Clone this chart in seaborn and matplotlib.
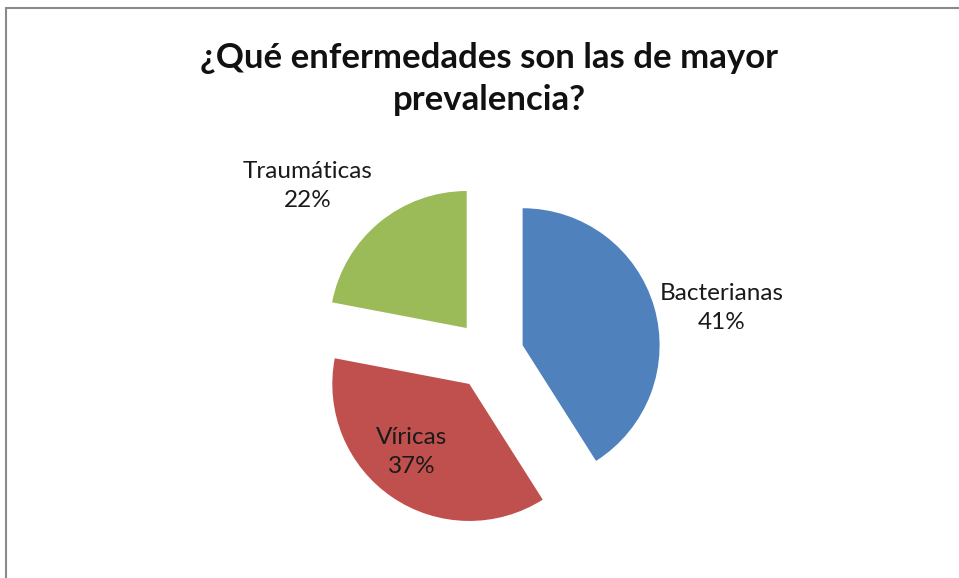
import matplotlib
matplotlib.use("Agg")
import matplotlib.pyplot as plt
import seaborn as sns
from matplotlib.lines import Line2D

categories = ["Bacterianas", "Víricas", "Traumáticas"]
values = [41, 37, 22]
colors = ["#4F81BD", "#C0504D", "#9BBB59"]
title = "¿Qué enfermedades son las de mayor\nprevalencia?"

sns.set_theme(style="white")
plt.rcParams["font.family"] = ["Lato", "DejaVu Sans"]

W, H = 959, 578
fig = plt.figure(figsize=(W / 100, H / 100), dpi=100)
ax = fig.add_axes([0, 0, 1, 1])

cx, cy, r = 489, H - 355, 137
ax.pie(values, colors=colors, startangle=90, counterclock=False,
       radius=r, center=(cx, cy), explode=[35] * len(values),
       wedgeprops=dict(linewidth=0), frame=True)
ax.set_xlim(0, W)
ax.set_ylim(0, H)
ax.set_aspect("equal")
ax.axis("off")

label_pos = [(722, 308), (412, 452), (308, 186)]
for name, v, (x, y) in zip(categories, values, label_pos):
    ax.text(x, H - y, f"{name}\n{v}%", ha="center", va="center",
            fontsize=17.5, color="#1a1a1a", linespacing=1.45)

ax.text(489, H - 79, title, ha="center", va="center", fontsize=25,
        fontweight="bold", color="#111111", linespacing=1.38)

fig.add_artist(Line2D([6 / W, 1], [1 - 8 / H, 1 - 8 / H],
                      transform=fig.transFigure, color="#8a8a8a", lw=1.5))
fig.add_artist(Line2D([6 / W, 6 / W], [0, 1 - 8 / H],
                      transform=fig.transFigure, color="#8a8a8a", lw=1.5))

fig.savefig("out.png", dpi=100)
